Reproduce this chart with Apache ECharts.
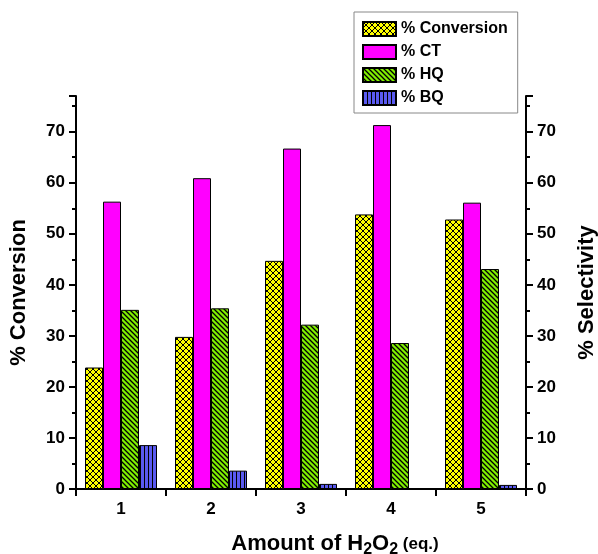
<!DOCTYPE html>
<html><head><meta charset="utf-8">
<script src="https://cdn.jsdelivr.net/npm/echarts@6/dist/echarts.min.js"></script>
<style>html,body{margin:0;padding:0;background:#fff}#c{width:598px;height:554px}</style>
</head><body><div id="c"></div>
<script>
const categories = ['1','2','3','4','5'];
const conversion = [23.8, 29.8, 44.7, 53.8, 52.8];
const ct = [56.3, 60.9, 66.7, 71.3, 56.1];
const hq = [35.1, 35.4, 32.2, 28.6, 43.1];
const bq = [8.6, 3.6, 1.0, 0, 0.8];
const yTicks = [0,10,20,30,40,50,60,70];

function pat(w, h, bg, draw) {
  const c = document.createElement('canvas');
  c.width = w; c.height = h;
  const g = c.getContext('2d');
  g.fillStyle = bg; g.fillRect(0,0,w,h);
  g.strokeStyle = '#000'; g.lineWidth = 1;
  draw(g, w, h);
  return {image: c, repeat: 'repeat'};
}
const yellowPat = pat(6, 6, '#ffff00', (g,w,h) => {
  g.beginPath();
  g.moveTo(0,0); g.lineTo(w,h);
  g.moveTo(w,0); g.lineTo(0,h);
  g.stroke();
});
const greenPat = pat(5, 5, '#80f000', (g,w,h) => {
  g.lineWidth = 1.3;
  g.beginPath();
  g.moveTo(-1,-1); g.lineTo(w+1,h+1);
  g.moveTo(-1,h-1); g.lineTo(1,h+1);
  g.moveTo(w-1,-1); g.lineTo(w+1,1);
  g.stroke();
});
const bluePat = pat(4, 4, '#5a5af0', (g,w,h) => {
  g.fillStyle = '#000'; g.fillRect(0,0,1,h);
});

const bold = {fontFamily: 'Arial, Liberation Sans', fontWeight: 'bold', color: '#000'};
const chart = echarts.init(document.getElementById('c'), null, {renderer: 'canvas'});
const yAxisCommon = {
  type: 'value', min: 0, max: 77, interval: 10,
  axisLine: {show: true, lineStyle: {color: '#000', width: 2}},
  axisTick: {show: true, inside: false, length: 7, lineStyle: {color: '#000', width: 2}},
  minorTick: {show: true, splitNumber: 2, length: 4, lineStyle: {color: '#000', width: 2}},
  splitLine: {show: false},
  axisLabel: Object.assign({fontSize: 17, margin: 11, showMaxLabel: false,
    formatter: v => yTicks.includes(v) ? String(v) : ''}, bold),
  nameLocation: 'middle',
  nameTextStyle: Object.assign({fontSize: 22}, bold)
};
const barBase = {type: 'bar', barWidth: 18, barGap: '0%'};
chart.setOption({
  animation: false,
  grid: {left: 76, right: 72, top: 96, bottom: 65, outerBoundsMode: 'none', containLabel: false},
  legend: {
    orient: 'vertical', left: 354, top: 12,
    itemWidth: 33, itemHeight: 14, itemGap: 5,
    padding: [8, 10, 6, 8],
    borderColor: '#888', borderWidth: 1,
    icon: 'rect',
    textStyle: Object.assign({fontSize: 16, lineHeight: 18}, bold),
    data: ['% Conversion', '% CT', '% HQ', '% BQ']
  },
  xAxis: {
    type: 'category', data: categories,
    axisLine: {lineStyle: {color: '#000', width: 2}},
    axisTick: {show: true, length: 7, lineStyle: {color: '#000', width: 2}},
    axisLabel: Object.assign({fontSize: 17, margin: 12}, bold),
    name: '{a|Amount of H}{s|2}{a|O}{s|2}{b| (eq.)}',
    nameLocation: 'middle', nameGap: 41,
    nameTextStyle: {
      padding: [0, 0, 0, 68],
      rich: {
        a: Object.assign({fontSize: 22}, bold),
        s: Object.assign({fontSize: 16, padding: [12, 0, 0, 0]}, bold),
        b: Object.assign({fontSize: 17}, bold)
      }
    }
  },
  yAxis: [
    Object.assign({}, yAxisCommon, {position: 'left', name: '% Conversion', nameGap: 46}),
    Object.assign({}, yAxisCommon, {position: 'right', name: '% Selectivity', nameGap: 50, nameRotate: 90})
  ],
  series: [
    Object.assign({}, barBase, {name: '% Conversion', yAxisIndex: 0, data: conversion,
      itemStyle: {color: yellowPat, borderColor: '#000', borderWidth: 1}}),
    Object.assign({}, barBase, {name: '% CT', yAxisIndex: 1, data: ct,
      itemStyle: {color: '#ff00ff', borderColor: '#000', borderWidth: 1}}),
    Object.assign({}, barBase, {name: '% HQ', yAxisIndex: 1, data: hq,
      itemStyle: {color: greenPat, borderColor: '#000', borderWidth: 1}}),
    Object.assign({}, barBase, {name: '% BQ', yAxisIndex: 1, data: bq,
      itemStyle: {color: bluePat, borderColor: '#000', borderWidth: 1}})
  ]
});
</script></body></html>
